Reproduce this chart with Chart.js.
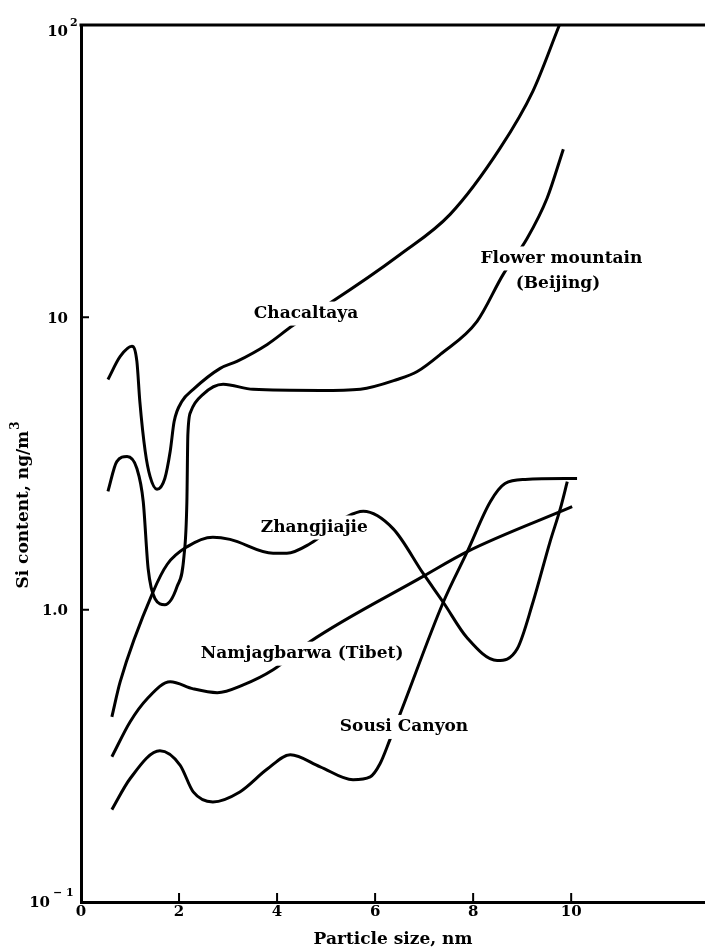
<!DOCTYPE html>
<html>
<head>
<meta charset="utf-8">
<script src="https://cdn.jsdelivr.net/npm/chart.js@4.4.1/dist/chart.umd.min.js"></script>
<style>
  html, body { margin: 0; padding: 0; background: #fff; }
</style>
</head>
<body>
<canvas id="chart" width="705" height="950"></canvas>
<script>
// particle size (nm) and Si content (ng/m3)
const chacaltayaX = [0.55, 0.80, 1.04, 1.14, 1.20, 1.31, 1.41, 1.55, 1.71, 1.82, 1.90, 2.06, 2.29, 2.84, 3.18, 3.80, 4.33, 5.08, 6.51, 7.53, 8.55, 9.22, 9.76];
const chacaltayaY = [6.13, 7.35, 7.96, 7.07, 5.16, 3.48, 2.85, 2.58, 2.81, 3.48, 4.40, 5.16, 5.67, 6.69, 7.07, 8.08, 9.39, 11.2, 16.4, 22.5, 37.9, 59.4, 100];

const flowerX = [0.55, 0.73, 0.94, 1.14, 1.27, 1.37, 1.51, 1.71, 1.96, 2.10, 2.16, 2.18, 2.24, 2.49, 2.90, 3.51, 4.88, 5.70, 6.45, 6.86, 7.33, 8.08, 8.61, 9.10, 9.51, 9.84];
const flowerY = [2.54, 3.21, 3.34, 3.04, 2.34, 1.38, 1.09, 1.04, 1.20, 1.52, 2.34, 3.97, 4.76, 5.45, 5.90, 5.67, 5.62, 5.68, 6.13, 6.53, 7.47, 9.69, 14.0, 18.6, 25.6, 37.6];

const zhangX = [0.63, 0.80, 1.47, 1.76, 2.16, 2.69, 3.04, 3.92, 4.20, 4.67, 5.43, 5.76, 6.37, 6.98, 7.39, 7.88, 8.49, 8.90, 9.22, 9.57, 9.78, 9.92];
const zhangY = [0.43, 0.567, 1.15, 1.43, 1.64, 1.77, 1.74, 1.56, 1.56, 1.68, 2.08, 2.17, 1.89, 1.33, 1.06, 0.80, 0.67, 0.735, 1.06, 1.71, 2.22, 2.74];

const tibetX = [0.63, 1.00, 1.35, 1.82, 2.29, 2.78, 3.31, 3.92, 4.67, 6.98, 7.88, 10.02];
const tibetY = [0.314, 0.413, 0.496, 0.567, 0.536, 0.520, 0.553, 0.623, 0.777, 1.30, 1.58, 2.25];

const sousiX = [0.63, 1.00, 1.61, 2.02, 2.29, 2.69, 3.24, 3.80, 4.27, 4.88, 5.55, 5.90, 6.10, 6.31, 6.51, 7.39, 7.88, 8.35, 8.65, 9.06, 10.12];
const sousiY = [0.207, 0.264, 0.329, 0.294, 0.238, 0.220, 0.238, 0.285, 0.319, 0.290, 0.262, 0.268, 0.297, 0.362, 0.440, 1.06, 1.58, 2.34, 2.70, 2.79, 2.81];

const xTicks = [0, 2, 4, 6, 8, 10];
const yTicks = [100, 10, 1, 0.1];

// curve names, placed in data units
const curveLabels = [
  { text: 'Chacaltaya', x: 4.59, y: 10.3 },
  { text: 'Flower mountain', x: 9.80, y: 15.9 },
  { text: '(Beijing)', x: 9.73, y: 13.0 },
  { text: 'Zhangjiajie', x: 4.76, y: 1.91 },
  { text: 'Namjagbarwa (Tibet)', x: 4.51, y: 0.707 },
  { text: 'Sousi Canyon', x: 6.59, y: 0.397 }
];

const serif = '"DejaVu Serif", serif';

const toPoints = (xs, ys) => xs.map((x, i) => ({ x: x, y: ys[i] }));

const curve = (label, xs, ys) => ({
  label: label,
  data: toPoints(xs, ys),
  borderColor: '#000',
  borderWidth: 3,
  pointRadius: 0,
  fill: false,
  cubicInterpolationMode: 'monotone'
});

const decor = {
  id: 'decor',
  afterDatasetsDraw(chart) {
    const { ctx, scales: { x, y } } = chart;
    ctx.save();
    ctx.font = 'bold 17px ' + serif;
    ctx.textAlign = 'center';
    ctx.textBaseline = 'middle';
    curveLabels.forEach(l => {
      const px = x.getPixelForValue(l.x);
      const py = y.getPixelForValue(l.y);
      const w = ctx.measureText(l.text).width;
      ctx.fillStyle = '#fff';
      ctx.fillRect(px - w / 2 - 4, py - 12, w + 8, 24);
      ctx.fillStyle = '#000';
      ctx.fillText(l.text, px, py);
    });
    ctx.restore();
  },
  afterDraw(chart) {
    const { ctx, chartArea: a, scales: { x, y } } = chart;
    ctx.save();
    ctx.strokeStyle = '#000';
    ctx.lineWidth = 3;
    ctx.beginPath();
    ctx.moveTo(a.left - 1.5, a.top);
    ctx.lineTo(a.right, a.top);
    ctx.stroke();

    // inward tick marks
    ctx.lineWidth = 2;
    ctx.beginPath();
    xTicks.slice(1).forEach(v => {
      const px = x.getPixelForValue(v);
      ctx.moveTo(px, a.bottom);
      ctx.lineTo(px, a.bottom - 9);
    });
    [10, 1].forEach(v => {
      const py = y.getPixelForValue(v);
      ctx.moveTo(a.left, py);
      ctx.lineTo(a.left + 8, py);
    });
    ctx.stroke();

    // y tick labels
    ctx.fillStyle = '#000';
    ctx.textBaseline = 'alphabetic';
    const big = 'bold 15px ' + serif, small = 'bold 11px ' + serif;
    yTicks.forEach(v => {
      const py = y.getPixelForValue(v);
      ctx.font = big;
      ctx.textAlign = 'right';
      if (v === 100) {
        ctx.fillText('10', 68, py + 10.5);
        ctx.font = small; ctx.textAlign = 'left';
        ctx.fillText('2', 70, py + 0.5);
      } else if (v === 0.1) {
        ctx.fillText('10', 50, py + 4.5);
        ctx.font = small; ctx.textAlign = 'left';
        ctx.fillText('\u2212 1', 53, py - 6);
      } else {
        ctx.fillText(v === 10 ? '10' : '1.0', 68, py + 5.5);
      }
    });

    // y axis title
    const main = 'Si content, ng/m';
    ctx.font = 'bold 17px ' + serif;
    const wm = ctx.measureText(main).width;
    ctx.font = 'bold 12px ' + serif;
    const ws = ctx.measureText('3').width;
    ctx.translate(24, 505 + (wm + ws + 1) / 2);
    ctx.rotate(-Math.PI / 2);
    ctx.textAlign = 'left';
    ctx.textBaseline = 'middle';
    ctx.font = 'bold 17px ' + serif;
    ctx.fillText(main, 0, 0);
    ctx.font = 'bold 12px ' + serif;
    ctx.fillText('3', wm + 1, -8);
    ctx.restore();
  }
};

new Chart(document.getElementById('chart'), {
  type: 'line',
  data: {
    datasets: [
      curve('Chacaltaya', chacaltayaX, chacaltayaY),
      curve('Flower mountain (Beijing)', flowerX, flowerY),
      curve('Zhangjiajie', zhangX, zhangY),
      curve('Namjagbarwa (Tibet)', tibetX, tibetY),
      curve('Sousi Canyon', sousiX, sousiY)
    ]
  },
  options: {
    responsive: false,
    animation: false,
    layout: { padding: { top: 25, right: 0, left: 0, bottom: 0 } },
    plugins: {
      legend: { display: false },
      tooltip: { enabled: false }
    },
    scales: {
      x: {
        type: 'linear',
        min: 0,
        max: 12.73,
        afterBuildTicks: s => { s.ticks = xTicks.map(v => ({ value: v })); },
        afterFit: s => { s.height = 48; },
        grid: { display: false, drawTicks: false },
        border: { display: true, color: '#000', width: 3 },
        ticks: {
          color: '#000',
          padding: 1,
          maxRotation: 0,
          font: { family: serif, size: 15, weight: 'bold' }
        },
        title: {
          display: true,
          text: 'Particle size, nm',
          color: '#000',
          padding: { top: 0, bottom: 0 },
          font: { family: serif, size: 17, weight: 'bold', lineHeight: 1.2 }
        }
      },
      y: {
        type: 'logarithmic',
        min: 0.1,
        max: 100,
        afterBuildTicks: s => { s.ticks = yTicks.map(v => ({ value: v })); },
        afterFit: s => { s.width = 81; },
        grid: { display: false, drawTicks: false },
        border: { display: true, color: '#000', width: 3 },
        ticks: { display: false }
      }
    }
  },
  plugins: [decor]
});
</script>
</body>
</html>
